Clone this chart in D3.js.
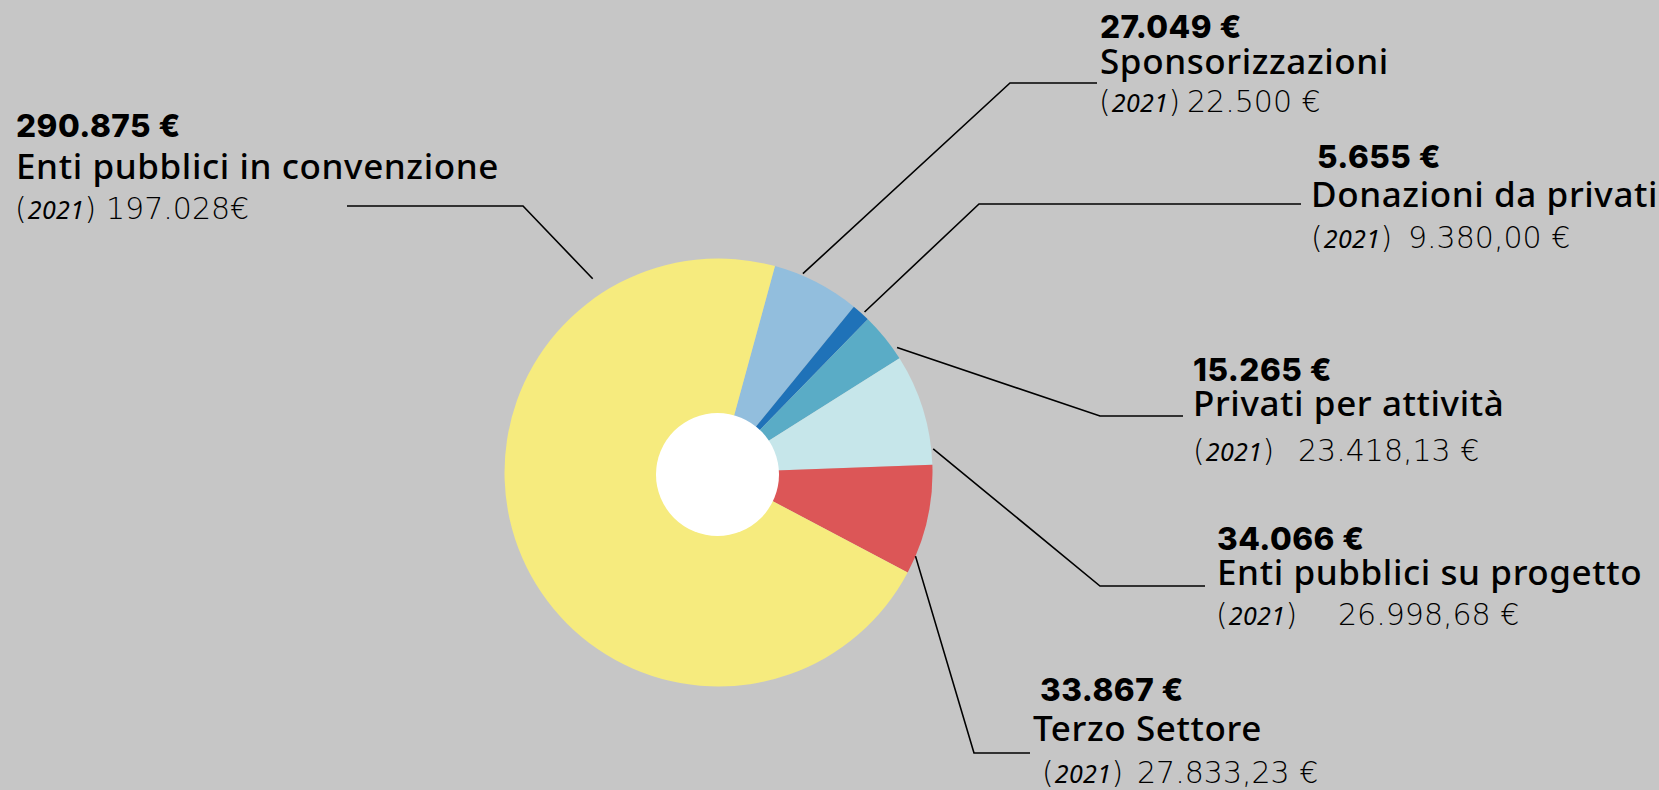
<!DOCTYPE html>
<html>
<head>
<meta charset="utf-8">
<script src="https://cdn.jsdelivr.net/npm/d3@7"></script>
<style>
  html, body { margin: 0; padding: 0; background: #c6c6c6; }
  svg { display: block; }
  .val { font-family: Inter; font-weight: 800; font-size: 31.5px; letter-spacing: 0.5px; fill: #000; }
  .name { font-family: "Noto Sans"; font-weight: 500; font-size: 35px; letter-spacing: 0.6px; fill: #000; }
  .prev { font-family: "DejaVu Sans"; font-weight: 200; font-size: 30px; fill: #000; }
  .yr { font-family: "Noto Sans"; font-style: italic; font-weight: 400; font-size: 25px; letter-spacing: 0.4px; }
</style>
</head>
<body>
<svg id="chart" width="1659" height="790"></svg>
<script>
// slices, clockwise from the top
const categories = [
  "Sponsorizzazioni",
  "Donazioni da privati",
  "Privati per attività",
  "Enti pubblici su progetto",
  "Terzo Settore",
  "Enti pubblici in convenzione",
];
const values2022 = [27049, 5655, 15265, 34066, 33867, 290875];
const labels2021 = ["22.500 €", "9.380,00 €", "23.418,13 €", "26.998,68 €", "27.833,23 €", "197.028€"];
const colors = ["#92bedd", "#1f72b8", "#5aacc6", "#c6e6ea", "#dc5657", "#f6eb7e"];

const width = 1659;
const height = 790;
const cx = 718.5, cy = 472.5;
const outerR = 214;
const holeR = 61.5;

// label placement: text lines + leader (start as [angle deg, radius], then elbow and end)
const layout = [
  { xv: 1100, yv: 38, xn: 1100, yn: 74, xp: 1099, yp: 112, xpv: 1187, leader: [[23, 216], [1010, 83], [1097, 83]] },
  { xv: 1317, yv: 168, xn: 1311, yn: 207, xp: 1311, yp: 248, xpv: 1408, leader: [[42.3, 217], [979, 204], [1301, 204]] },
  { xv: 1193, yv: 381, xn: 1193, yn: 416, xp: 1193, yp: 461, xpv: 1298, leader: [[55, 218], [1100, 416], [1183, 416]] },
  { xv: 1217, yv: 550, xn: 1217, yn: 585, xp: 1216, yp: 625, xpv: 1338, leader: [[83.7, 216], [1100, 586], [1205, 586]] },
  { xv: 1040, yv: 701, xn: 1033, yn: 741, xp: 1042, yp: 783, xpv: 1137, leader: [[113, 214], [974, 753], [1030, 753]] },
  { xv: 16, yv: 137, xn: 16, yn: 179, xp: 15, yp: 219, xpv: 106, leader: [[327, 231], [523, 206], [347, 206]] },
];

const locale = d3.formatLocale({ decimal: ",", thousands: ".", grouping: [3], currency: ["", " €"] });
const fmt = locale.format("$,d");

const svg = d3.select("#chart");
svg.append("rect").attr("width", width).attr("height", height).attr("fill", "#c6c6c6");

const data = categories.map((c, i) => ({ name: c, value: values2022[i], prev: labels2021[i], color: colors[i], pos: layout[i] }));

const startA = (15.3 * Math.PI) / 180;
const pie = d3.pie().sort(null).value((d) => d.value).startAngle(startA).endAngle(startA + 2 * Math.PI);
const arc = d3.arc().innerRadius(0).outerRadius(outerR);

const g = svg.append("g").attr("transform", `translate(${cx},${cy})`);
g.selectAll("path.slice")
  .data(pie(data))
  .join("path")
  .attr("class", "slice")
  .attr("fill", (d) => d.data.color)
  .attr("d", arc);

// white hole
svg.append("circle").attr("cx", cx - 1).attr("cy", cy + 2).attr("r", holeR).attr("fill", "#fff");

// leader lines
const line = d3.line();
svg.selectAll("path.leader")
  .data(data)
  .join("path")
  .attr("class", "leader")
  .attr("fill", "none")
  .attr("stroke", "#000")
  .attr("stroke-width", 1.6)
  .attr("d", (d) => {
    const [a, r] = d.pos.leader[0];
    const p = d3.pointRadial((a * Math.PI) / 180, r);
    return line([[cx + p[0], cy + p[1]], d.pos.leader[1], d.pos.leader[2]]);
  });

// labels
const lab = svg.selectAll("g.label").data(data).join("g").attr("class", "label");
lab.append("text").attr("class", "val").attr("x", (d) => d.pos.xv).attr("y", (d) => d.pos.yv).text((d) => fmt(d.value));
lab.append("text").attr("class", "name").attr("x", (d) => d.pos.xn).attr("y", (d) => d.pos.yn).text((d) => d.name);
const prev = lab.append("text").attr("class", "prev").attr("x", (d) => d.pos.xp).attr("y", (d) => d.pos.yp);
prev.append("tspan").text("(");
prev.append("tspan").attr("class", "yr").attr("dx", 1).text("2021");
prev.append("tspan").text(")");
prev.append("tspan").attr("x", (d) => d.pos.xpv).text((d) => d.prev);
</script>
</body>
</html>
